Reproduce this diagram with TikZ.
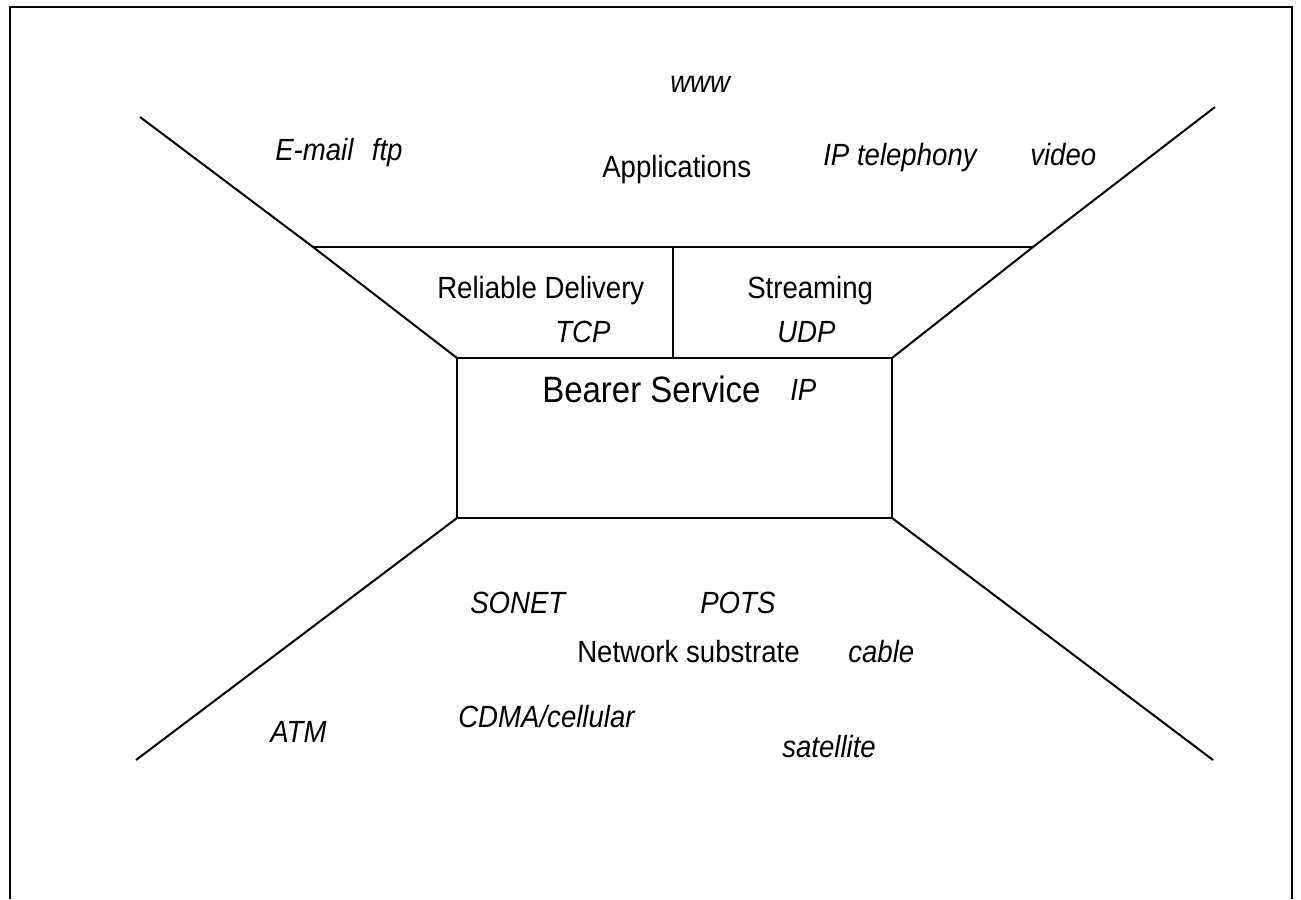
\documentclass[tikz,border=0pt]{standalone}
\usepackage{fontspec}
\setmainfont{Liberation Sans}[FakeStretch=0.9]
\begin{document}
\begin{tikzpicture}[x=0.75pt,y=-0.75pt,
  edge/.style={line width=1.5pt,line join=miter},
  frame/.style={line width=1.9pt},
  lbl/.style={anchor=base west,inner sep=0pt,font=\fontsize{23}{26}\selectfont},
  ilbl/.style={lbl,font=\fontsize{23}{26}\selectfont\itshape},
  big/.style={anchor=base west,inner sep=0pt,font=\fontsize{27.5}{30}\selectfont}]
\useasboundingbox (0,0) rectangle (1301,899);
% frame (open at the bottom)
\draw[frame] (10,899) -- (10,7) -- (1292,7) -- (1292,899);
% corners
\coordinate (tl) at (140,117);
\coordinate (tr) at (1215,107);
\coordinate (bl) at (136,760);
\coordinate (br) at (1213,760);
\coordinate (ml) at (313,247);
\coordinate (mr) at (1033,247);
\coordinate (mc) at (673,247);
\coordinate (b1) at (457,358);
\coordinate (b2) at (892,358);
\coordinate (b3) at (892,518);
\coordinate (b4) at (457,518);
\coordinate (bc) at (673,358);
% lines
\draw[edge] (tl) -- (ml) -- (b1);
\draw[edge] (tr) -- (mr) -- (b2);
\draw[edge] (ml) -- (mr);
\draw[edge] (mc) -- (bc);
\draw[edge] (b1) rectangle (b3);
\draw[edge] (b4) -- (bl);
\draw[edge] (b3) -- (br);
% texts
\node[ilbl] (www) at (670,93) {www};
\node[ilbl] (email) at (275,160) {E-mail\hspace{0.6em}ftp};
\node[lbl] (apps) at (602,177) {Applications};
\node[ilbl] (iptel) at (823,165) {IP telephony};
\node[ilbl] (video) at (1030,165) {video};
\node[lbl] (rel) at (437,298) {Reliable Delivery};
\node[ilbl] (tcp) at (555,342) {TCP};
\node[lbl] (stream) at (747,298) {Streaming};
\node[ilbl] (udp) at (777,342) {UDP};
\node[big] (bearer) at (542,402) {Bearer Service};
\node[ilbl] (ip) at (790,400) {IP};
\node[ilbl] (sonet) at (470,613) {SONET};
\node[ilbl] (pots) at (700,613) {POTS};
\node[lbl] (net) at (577,662) {Network substrate};
\node[ilbl] (cable) at (848,662) {cable};
\node[ilbl] (cdma) at (458,727) {CDMA/cellular};
\node[ilbl] (sat) at (782,757) {satellite};
\node[ilbl] (atm) at (270,742) {ATM};
\end{tikzpicture}
\end{document}
